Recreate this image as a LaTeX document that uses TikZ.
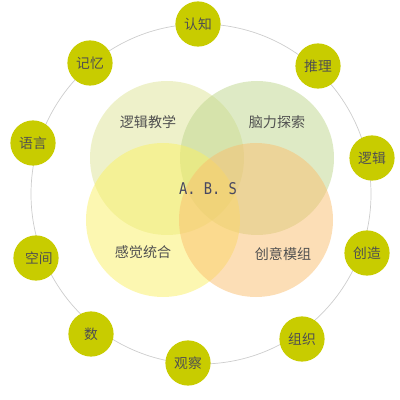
\documentclass[tikz,border=0pt]{standalone}
\usepackage{fontspec}
\newfontfamily\cjkfont{Noto Sans CJK SC}
\newfontfamily\monofont{DejaVu Sans Mono}
\definecolor{ringgray}{RGB}{205,205,205}
\definecolor{skillgreen}{RGB}{200,204,0}
\definecolor{textgray}{RGB}{80,80,80}
\definecolor{vennA}{RGB}{222,228,150}
\definecolor{vennB}{RGB}{190,214,140}
\definecolor{vennC}{RGB}{250,240,100}
\definecolor{vennD}{RGB}{250,190,110}
\tikzset{
    skill/.style={circle, fill=skillgreen, minimum size=1.13cm, inner sep=0pt,
        text=textgray, font=\cjkfont\fontsize{9.8}{9.8}\selectfont},
    venn/.style={fill opacity=0.5, draw=none},
    vennlabel/.style={text=textgray, font=\cjkfont\fontsize{10}{10}\selectfont}
}
\begin{document}
\begin{tikzpicture}[x=0.025cm, y=-0.025cm]
    \useasboundingbox (0,0) rectangle (400,400);
    % Outer ring
    \draw[ringgray, line width=0.5pt] (201,194) circle (170);
    % Overlapping circles
    \fill[venn, vennA] (167,158) circle (77);
    \fill[venn, vennB] (257,158) circle (77);
    \fill[venn, vennC] (163,220) circle (77);
    \fill[venn, vennD] (256,220) circle (77);
    \node[vennlabel] (logic) at (148,122) {逻辑教学};
    \node[vennlabel] (brain) at (277,122) {脑力探索};
    \node[vennlabel] (sense) at (143,252) {感觉统合};
    \node[vennlabel] (module) at (283,254) {创意模组};
    \node[text=textgray!90!blue, font=\monofont\fontsize{11.5}{11.5}\selectfont, xscale=0.85] (abs) at (208,189) {A. B. S};
    % Skills around the ring
    \node[skill] (cognition) at (198,24) {认知};
    \node[skill] (reasoning) at (318,66) {推理};
    \node[skill] (logicring) at (372,158) {逻辑};
    \node[skill] (creation) at (367,253) {创造};
    \node[skill] (organize) at (302,339) {组织};
    \node[skill] (observe) at (188,363) {观察};
    \node[skill] (number) at (91,334) {数};
    \node[skill] (space) at (36,258) {\hspace{4pt}空间};
    \node[skill] (language) at (33,143) {语言};
    \node[skill] (memory) at (90,63) {记忆};
\end{tikzpicture}
\end{document}
